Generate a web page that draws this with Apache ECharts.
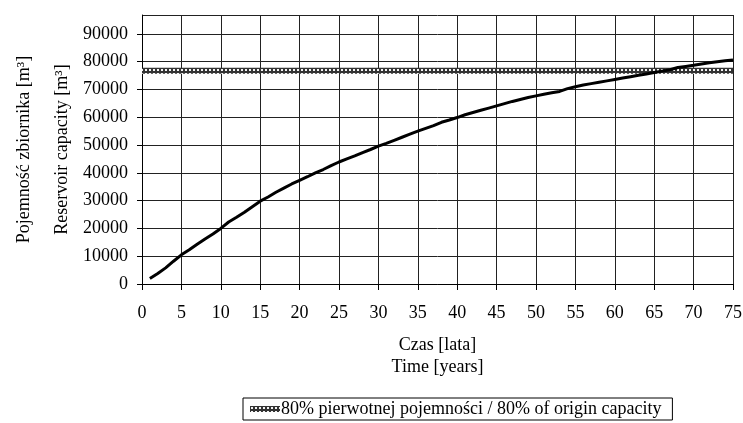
<!DOCTYPE html>
<html>
<head>
<meta charset="utf-8">
<script src="https://cdn.jsdelivr.net/npm/echarts@6/dist/echarts.min.js"></script>
<style>html,body{margin:0;padding:0;background:#fff}#c{width:743px;height:423px}</style>
</head>
<body>
<div id="c"></div>
<script>
var years = [];
for (var i = 1; i <= 75; i++) years.push(i);
var capacity = [
  2000, 3800, 5800, 8200, 10500, 12300, 14300, 16200, 18000, 20000,
  22300, 24000, 25800, 27800, 29800, 31300, 33000, 34500, 36000, 37300,
  38600, 40000, 41200, 42600, 43900, 45000, 46100, 47300, 48400, 49600,
  50600, 51700, 52800, 53900, 55000, 56000, 57000, 58200, 59000, 59900,
  60900, 61700, 62500, 63300, 64100, 64900, 65700, 66400, 67100, 67700,
  68300, 68800, 69300, 70300, 71000, 71600, 72100, 72600, 73100, 73600,
  74100, 74600, 75100, 75600, 76100, 76600, 77100, 77900, 78300, 78700,
  79200, 79600, 80000, 80300, 80600
];
var limitYears = [0, 75];
var limitValue = 76700;
var limitName = '80% pierwotnej pojemności / 80% of origin capacity';
var xTicks = [0,5,10,15,20,25,30,35,40,45,50,55,60,65,70,75];
var yTicks = [0,10000,20000,30000,40000,50000,60000,70000,80000,90000];

var curveData = years.map(function (y, i) { return [y, capacity[i]]; });
var limitData = limitYears.map(function (y) { return [y, limitValue]; });

// hatched pattern
var pc = document.createElement('canvas');
pc.width = 4; pc.height = 4;
var ctx = pc.getContext('2d');
ctx.fillStyle = '#333'; ctx.fillRect(0, 0, 4, 4);
ctx.fillStyle = '#f4f4f4';
ctx.fillRect(1, 1, 2, 2);
var pattern = { image: pc, repeat: 'repeat' };

var font = 'Liberation Serif';
var chart = echarts.init(document.getElementById('c'), null, { renderer: 'canvas' });
chart.setOption({
  animation: false,
  backgroundColor: '#fff',
  textStyle: { fontFamily: font },
  grid: { left: 142, right: 10, top: 15, bottom: 139, containLabel: false, outerBoundsMode: 'none' },
  legend: {
    left: 243, top: 398,
    data: [{ name: limitName, icon: 'rect', itemStyle: { color: pattern } }],
    itemWidth: 30, itemHeight: 6, itemGap: 4,
    borderColor: '#000', borderWidth: 1, borderRadius: 0,
    padding: [2, 11, 2, 7],
    textStyle: { fontFamily: font, fontSize: 18, color: '#000', padding: [0, 0, 0, -4] }
  },
  xAxis: {
    type: 'value', min: 0, max: 75, interval: 5,
    name: 'Czas [lata]\nTime [years]', nameLocation: 'middle', nameGap: 50,
    nameMoveOverlap: false,
    nameTextStyle: { fontFamily: font, fontSize: 18, color: '#000', lineHeight: 22 },
    axisLine: { show: true, lineStyle: { color: '#000', width: 1 } },
    axisTick: { show: true, length: 6, lineStyle: { color: '#000' } },
    axisLabel: { fontFamily: font, fontSize: 18, color: '#000', margin: 20,
      formatter: function (v) { return xTicks.indexOf(v) >= 0 ? String(v) : ''; } },
    splitLine: { show: true, lineStyle: { color: '#222', width: 1 } }
  },
  yAxis: {
    type: 'value', min: 0, max: 96800, interval: 10000,
    name: 'Pojemność zbiornika [m³]\nReservoir capacity [m³]', nameLocation: 'middle',
    nameRotate: 90, nameGap: 61, nameMoveOverlap: false,
    nameTextStyle: { fontFamily: font, fontSize: 18, color: '#000', lineHeight: 38 },
    axisLine: { show: true, lineStyle: { color: '#000', width: 1 } },
    axisTick: { show: true, length: 5, lineStyle: { color: '#000' } },
    axisLabel: { fontFamily: font, fontSize: 18, color: '#000', margin: 14, showMaxLabel: false,
      formatter: function (v) { return yTicks.indexOf(v) >= 0 ? String(v) : ''; } },
    splitLine: { show: true, lineStyle: { color: '#222', width: 1 } }
  },
  series: [
    {
      name: 'curve', type: 'line', data: curveData, showSymbol: false, symbol: 'none',
      lineStyle: { color: '#000', width: 3 }, z: 3
    },
    {
      name: limitName, type: 'line', data: limitData, showSymbol: false, symbol: 'none',
      lineStyle: { color: pattern, width: 6 }, itemStyle: { color: pattern }, z: 2
    }
  ]
});
</script>
</body>
</html>
